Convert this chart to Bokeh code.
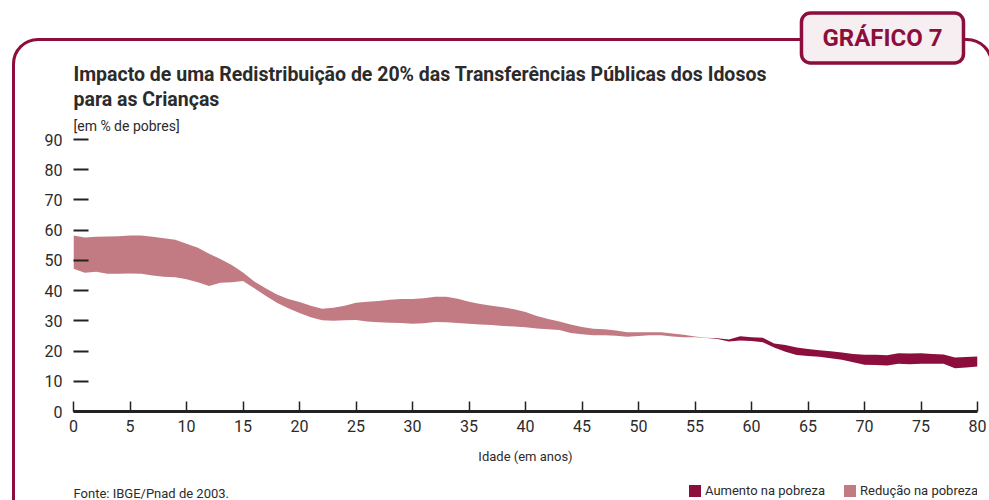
import numpy as np
from bokeh.plotting import figure
from bokeh.layouts import column
from bokeh.models import (Range1d, Title, Legend, LegendItem, Label,
                          ColumnDataSource, FixedTicker)
from bokeh.embed import file_html
from bokeh.resources import INLINE

# ---- data ----
idade = list(range(0, 81))

# poverty (% of poor) before the redistribution
pobreza_antes = [
    58.2, 57.6, 57.8, 57.9, 58.0, 58.2, 58.2, 57.8, 57.3, 56.8,
    55.5, 54.2, 52.2, 50.5, 48.5, 46.0, 43.0, 40.8, 38.7, 37.2,
    36.2, 35.0, 34.0, 34.3, 35.0, 36.0, 36.3, 36.6, 37.0, 37.2,
    37.2, 37.5, 38.0, 38.0, 37.3, 36.3, 35.6, 35.0, 34.5, 33.8,
    32.9, 31.6, 30.6, 29.8, 28.8, 28.0, 27.4, 27.2, 26.8, 26.2,
    26.2, 26.2, 26.2, 25.8, 25.4, 24.8, 24.4, 24.0, 23.2, 23.5,
    23.3, 22.9, 21.2, 19.8, 18.7, 18.4, 18.1, 17.6, 17.1, 16.3,
    15.5, 15.4, 15.2, 15.8, 15.6, 15.8, 15.8, 15.8, 14.3, 14.6,
    14.9,
]

# poverty (% of poor) after redistributing 20% of transfers
pobreza_depois = [
    47.2, 45.9, 46.2, 45.6, 45.6, 45.7, 45.6, 45.0, 44.6, 44.4,
    43.8, 42.8, 41.5, 42.6, 42.8, 43.2, 40.8, 38.3, 36.0, 34.2,
    32.6, 31.2, 30.2, 30.0, 30.2, 30.3, 29.8, 29.5, 29.4, 29.3,
    29.0, 29.2, 29.6, 29.5, 29.3, 29.0, 28.8, 28.6, 28.3, 28.1,
    27.9, 27.5, 27.2, 27.0, 26.0, 25.6, 25.2, 25.2, 25.1, 24.7,
    25.0, 25.2, 25.2, 24.8, 24.6, 24.6, 24.3, 24.2, 23.8, 24.9,
    24.6, 24.4, 22.5, 22.0, 21.2, 20.7, 20.3, 19.9, 19.5, 19.0,
    18.8, 18.8, 18.6, 19.3, 19.2, 19.3, 19.0, 18.9, 17.9, 18.0,
    18.2,
]

x_ticks = list(range(0, 81, 5))
y_ticks = list(range(0, 91, 10))

titulo_1 = "Impacto de uma Redistribuição de 20% das Transferências Públicas dos Idosos"
titulo_2 = "para as Crianças"
subtitulo = "[em % de pobres]"
rotulo_x = "Idade (em anos)"
fonte = "Fonte: IBGE/Pnad de 2003."
grafico = "GRÁFICO 7"
serie_aumento = "Aumento na pobreza"
serie_reducao = "Redução na pobreza"

# ---- styling ----
FONT = "Roboto"
DARK = "#8C0E3C"
PINK = "#C27A83"
TXT = "#2B2B2B"
W, H_MAIN, H_FOOT = 989, 471, 29

frame_css = """
:host { position: relative; z-index: 0; overflow: hidden; }
:host::before {
  content: ""; position: absolute; z-index: -1; pointer-events: none;
  left: 12px; top: 38px; width: 981px; height: 700px;
  box-sizing: border-box; border: 3.5px solid #8C0E3C; border-radius: 26px;
}
"""

antes = np.array(pobreza_antes)
depois = np.array(pobreza_depois)
src = ColumnDataSource(dict(
    x=idade,
    red_lo=np.minimum(antes, depois), red_hi=antes,
    aum_lo=antes, aum_hi=np.maximum(antes, depois),
))

# ---------------- main chart ----------------
p = figure(width=W, height=H_MAIN, output_backend="svg", toolbar_location=None,
           x_range=Range1d(0, 80), y_range=Range1d(0, 90),
           min_border_left=73, min_border_right=12,
           min_border_top=139, min_border_bottom=H_MAIN - 411)
p.outline_line_color = None
p.xgrid.grid_line_color = None
p.ygrid.grid_line_color = None
p.background_fill_color = "white"
p.border_fill_color = None

r_red = p.varea(x="x", y1="red_lo", y2="red_hi", source=src, fill_color=PINK)
r_aum = p.varea(x="x", y1="aum_lo", y2="aum_hi", source=src, fill_color=DARK)

xa = p.xaxis[0]
xa.ticker = FixedTicker(ticks=x_ticks)
xa.axis_line_width = 3
xa.axis_line_color = "#222222"
xa.major_tick_in = 10
xa.major_tick_out = 0
xa.major_tick_line_width = 1.5
xa.major_tick_line_color = "#222222"
xa.minor_tick_line_color = None
xa.major_label_standoff = 8
xa.major_label_text_font = FONT
xa.major_label_text_font_size = "16px"
xa.major_label_text_color = TXT
xa.axis_label = rotulo_x
xa.axis_label_standoff = 14
xa.axis_label_text_font = FONT
xa.axis_label_text_font_size = "13px"
xa.axis_label_text_font_style = "normal"
xa.axis_label_text_color = TXT

ya = p.yaxis[0]
ya.ticker = FixedTicker(ticks=y_ticks)
ya.axis_line_color = None
ya.major_tick_in = 15
ya.major_tick_out = 0
ya.major_tick_line_width = 2
ya.major_tick_line_color = "#222222"
ya.minor_tick_line_color = None
ya.major_label_standoff = 11
ya.major_label_text_font = FONT
ya.major_label_text_font_size = "16px"
ya.major_label_text_color = TXT

# titles (added from the frame outward)
p.add_layout(Title(text=subtitulo, align="left", text_font=FONT,
                   text_font_size="14px", text_font_style="normal",
                   text_color=TXT, standoff=11), "above")
p.add_layout(Title(text=titulo_2, align="left", text_font=FONT,
                   text_font_size="19.5px", text_font_style="bold",
                   text_color=TXT, standoff=0), "above")
p.add_layout(Title(text=titulo_1, align="left", text_font=FONT,
                   text_font_size="19.5px", text_font_style="bold",
                   text_color=TXT, standoff=0), "above")
p.add_layout(Title(text=grafico, align="right", offset=14, text_font=FONT,
                   text_font_size="24px", text_font_style="bold",
                   text_color=DARK, standoff=-5,
                   background_fill_color="#F6EEF0", background_fill_alpha=1.0,
                   border_line_color=DARK, border_line_width=3.5,
                   border_radius=9,
                   padding=dict(left=21, right=21, top=11, bottom=11)), "above")

# ---------------- footer: source note and legend ----------------
# (its frame is aligned with the chart frame by the column layout)
f = figure(width=W, height=H_FOOT, output_backend="svg", toolbar_location=None,
           x_range=Range1d(0, 1), y_range=Range1d(0, 1),
           x_axis_location=None, y_axis_location=None,
           min_border_left=73, min_border_right=12,
           min_border_top=0, min_border_bottom=0)
f.outline_line_color = None
f.xgrid.grid_line_color = None
f.ygrid.grid_line_color = None
f.background_fill_color = None
f.border_fill_color = None

# legend swatches: degenerate (invisible) areas carrying the series colours
sw_aum = f.varea(x=[0], y1=[0], y2=[0], fill_color=DARK)
sw_red = f.varea(x=[0], y1=[0], y2=[0], fill_color=PINK)

f.add_layout(Label(x=0, y=7, x_units="screen", y_units="screen", text=fonte,
                   text_font=FONT, text_font_size="13px", text_color=TXT,
                   text_baseline="alphabetic"))

legend = Legend(items=[LegendItem(label=serie_aumento, renderers=[sw_aum]),
                       LegendItem(label=serie_reducao, renderers=[sw_red])],
                orientation="horizontal", location=(614, 2),
                padding=0, margin=0, spacing=17, label_standoff=3,
                glyph_width=15, glyph_height=15, label_height=15,
                label_text_font=FONT, label_text_font_size="13px",
                label_text_color=TXT, background_fill_alpha=0,
                border_line_color=None)
f.add_layout(legend)

layout = column(p, f, spacing=0, stylesheets=[frame_css])

open("out.html", "w").write(file_html(layout, INLINE))
